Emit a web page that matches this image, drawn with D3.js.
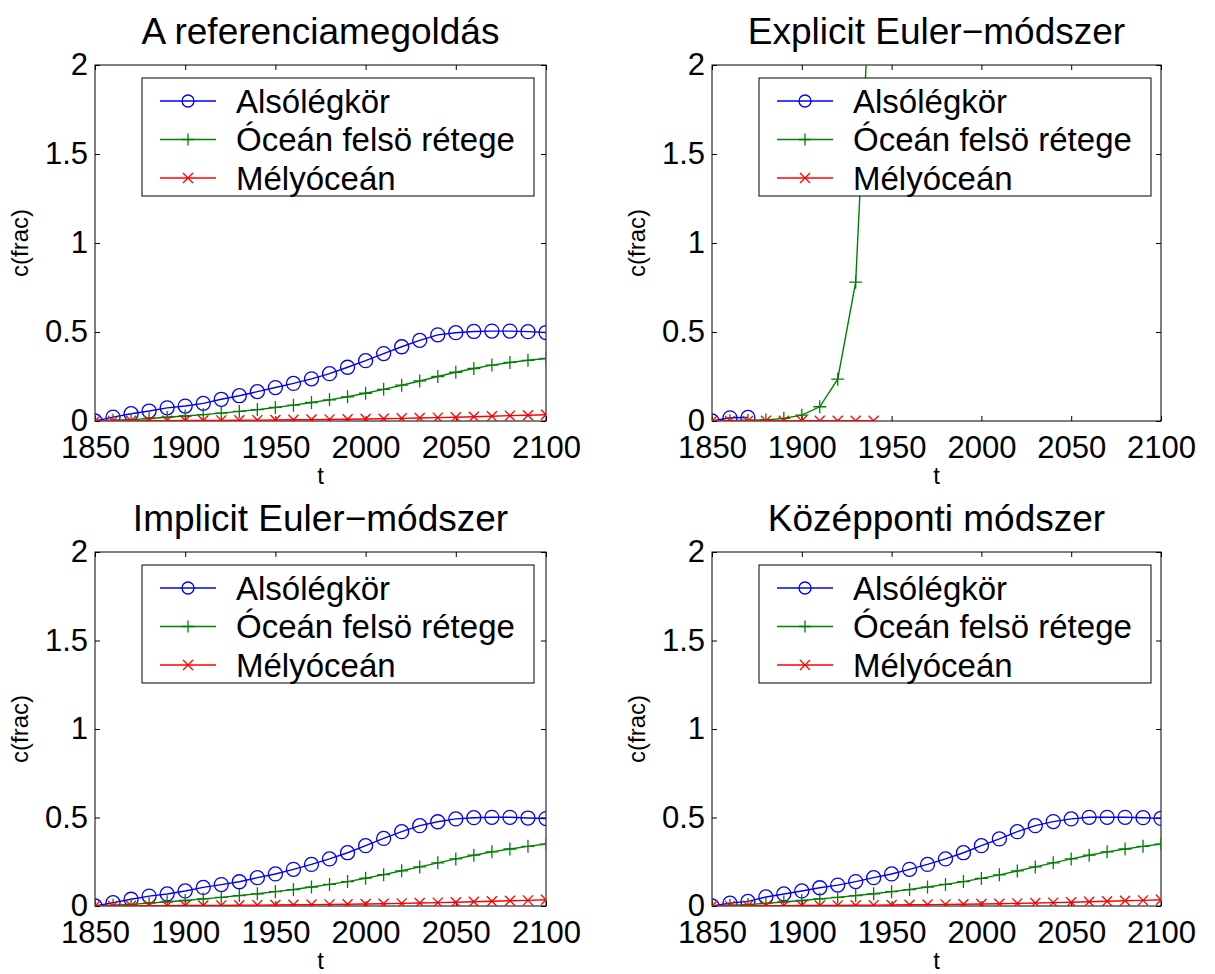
<!DOCTYPE html>
<html>
<head>
<meta charset="utf-8">
<script src="https://cdn.jsdelivr.net/npm/d3@7.9.0/dist/d3.min.js"></script>
<style>
  body { margin: 0; background: #fff; }
  svg { display: block; font-family: "Liberation Sans", Arial, sans-serif; }
</style>
</head>
<body>
<svg id="chart" width="1215" height="974"></svg>
<script>
// values
const years = [1850, 1860, 1870, 1880, 1890, 1900, 1910, 1920, 1930, 1940, 1950, 1960, 1970,
               1980, 1990, 2000, 2010, 2020, 2030, 2040, 2050, 2060, 2070, 2080, 2090, 2100];
const xTicks = [1850, 1900, 1950, 2000, 2050, 2100];
const yTicks = [0, 0.5, 1, 1.5, 2];
const seriesNames = ['Alsólégkör', 'Óceán felsö rétege', 'Mélyóceán'];
const titles = ['A referenciamegoldás', 'Explicit Euler\u2212módszer', 'Implicit Euler\u2212módszer', 'Középponti módszer'];

const refAtm = [0, 0.022, 0.041, 0.056, 0.074, 0.084, 0.099, 0.122, 0.142, 0.165, 0.188, 0.211, 0.237,
                0.266, 0.302, 0.339, 0.379, 0.417, 0.453, 0.484, 0.496, 0.503, 0.505, 0.505, 0.502, 0.497];
const refOcean = [0, 0.004, 0.008, 0.014, 0.021, 0.028, 0.036, 0.044, 0.054, 0.064, 0.076, 0.089, 0.104,
                  0.119, 0.136, 0.156, 0.178, 0.201, 0.225, 0.250, 0.274, 0.295, 0.314, 0.329, 0.341, 0.351];
const refDeep = [0, 0.0005, 0.001, 0.0015, 0.002, 0.0025, 0.003, 0.0035, 0.004, 0.005, 0.006, 0.007, 0.008,
                 0.009, 0.010, 0.011, 0.013, 0.015, 0.017, 0.019, 0.021, 0.024, 0.027, 0.030, 0.032, 0.035];

const explAtm = [0, 0.018, 0.02];
const explOcean = [0, 0.002, 0.004, 0.006, 0.015, 0.033, 0.08, 0.235, 0.78, 2.88];
const explDeep = [0, 0, 0, 0.001, 0.001, 0.001, 0.001, 0.001, 0.001, 0.001];

const implAtm = [0, 0.019, 0.038, 0.056, 0.068, 0.085, 0.105, 0.121, 0.137, 0.160, 0.181, 0.207, 0.235,
                 0.266, 0.301, 0.341, 0.382, 0.420, 0.454, 0.476, 0.492, 0.499, 0.501, 0.501, 0.497, 0.494];
const implOcean = [0, 0.004, 0.009, 0.016, 0.024, 0.031, 0.040, 0.049, 0.059, 0.069, 0.081, 0.093, 0.107,
                   0.122, 0.138, 0.157, 0.177, 0.199, 0.221, 0.244, 0.266, 0.287, 0.306, 0.322, 0.337, 0.350];
const implDeep = [0, 0.0005, 0.001, 0.0015, 0.002, 0.0025, 0.003, 0.0035, 0.004, 0.005, 0.006, 0.007, 0.008,
                  0.009, 0.010, 0.011, 0.013, 0.015, 0.017, 0.019, 0.021, 0.024, 0.027, 0.030, 0.032, 0.035];

const centAtm = [0, 0.016, 0.026, 0.051, 0.068, 0.085, 0.103, 0.118, 0.138, 0.160, 0.181, 0.207, 0.235,
                 0.266, 0.301, 0.341, 0.379, 0.420, 0.454, 0.477, 0.492, 0.501, 0.501, 0.501, 0.499, 0.495];
const centOcean = [0, 0.004, 0.008, 0.015, 0.023, 0.031, 0.040, 0.049, 0.059, 0.069, 0.081, 0.093, 0.107,
                   0.122, 0.138, 0.156, 0.176, 0.198, 0.221, 0.244, 0.266, 0.287, 0.306, 0.322, 0.337, 0.350];
const centDeep = [0, 0.0005, 0.001, 0.0015, 0.002, 0.0025, 0.003, 0.0035, 0.004, 0.005, 0.006, 0.007, 0.008,
                  0.009, 0.010, 0.011, 0.013, 0.015, 0.017, 0.019, 0.021, 0.024, 0.027, 0.030, 0.032, 0.035];

const panelData = [
  [refAtm, refOcean, refDeep],
  [explAtm, explOcean, explDeep],
  [implAtm, implOcean, implDeep],
  [centAtm, centOcean, centDeep]
];

const colors = ['#0000ff', '#008000', '#ff0000'];
const markerPaths = [
  d3.symbol().type(d3.symbolCircle).size(Math.PI * 7 * 7)(),
  'M-6.5,0H6.5M0,-6.5V6.5',
  'M-5,-5L5,5M-5,5L5,-5'
];
const legendMarkers = [
  d3.symbol().type(d3.symbolCircle).size(Math.PI * 6 * 6)(),
  'M-6,0H6M0,-6V6',
  'M-5,-5L5,5M-5,5L5,-5'
];

const boxes = [
  { left: 95, top: 65, right: 546, bottom: 421 },
  { left: 712, top: 65, right: 1161, bottom: 421 },
  { left: 95, top: 552, right: 546, bottom: 906 },
  { left: 712, top: 552, right: 1161, bottom: 906 }
];

const svg = d3.select('#chart');

boxes.forEach((b, p) => {
  let x = d3.scaleLinear().domain([1850, 2100]).range([b.left, b.right]);
  let y = d3.scaleLinear().domain([0, 2]).range([b.bottom, b.top]);

  let clipId = 'clip' + p;
  svg.append('clipPath').attr('id', clipId)
     .append('rect')
     .attr('x', b.left).attr('y', b.top)
     .attr('width', b.right - b.left).attr('height', b.bottom - b.top);

  // axes with inward ticks
  let gx = svg.append('g')
      .attr('transform', `translate(0,${b.bottom})`)
      .call(d3.axisBottom(x).tickValues(xTicks).tickFormat(d => d).tickSize(-5).tickSizeOuter(0).tickPadding(15));
  let gxt = svg.append('g')
      .attr('transform', `translate(0,${b.top})`)
      .call(d3.axisTop(x).tickValues(xTicks).tickFormat('').tickSize(-5).tickSizeOuter(0));
  let gy = svg.append('g')
      .attr('transform', `translate(${b.left},0)`)
      .call(d3.axisLeft(y).tickValues(yTicks).tickFormat(d => d).tickSize(-5).tickSizeOuter(0).tickPadding(7));
  let gyr = svg.append('g')
      .attr('transform', `translate(${b.right},0)`)
      .call(d3.axisRight(y).tickValues(yTicks).tickFormat('').tickSize(-5).tickSizeOuter(0));

  [gx, gxt, gy, gyr].forEach(g => {
    g.select('.domain').remove();
    g.selectAll('line').attr('stroke', '#000').attr('stroke-width', 1);
    g.selectAll('text').attr('fill', '#000')
     .style('font-size', '31px').style('font-family', '"Liberation Sans", Arial, sans-serif');
  });

  svg.append('rect')
     .attr('x', b.left).attr('y', b.top)
     .attr('width', b.right - b.left).attr('height', b.bottom - b.top)
     .attr('fill', 'none').attr('stroke', '#000').attr('stroke-width', 1);

  // series
  let plot = svg.append('g').attr('clip-path', `url(#${clipId})`);
  panelData[p].forEach((vals, s) => {
    let pts = vals.map((v, i) => [years[i], v]);
    let line = d3.line().x(d => x(d[0])).y(d => y(d[1]));
    plot.append('path')
        .attr('d', line(pts))
        .attr('fill', 'none')
        .attr('stroke', colors[s])
        .attr('stroke-width', 1.4);
    plot.selectAll(null)
        .data(pts)
        .enter().append('path')
        .attr('transform', d => `translate(${x(d[0])},${y(d[1])})`)
        .attr('d', markerPaths[s])
        .attr('fill', 'none')
        .attr('stroke', colors[s])
        .attr('stroke-width', 1.3);
  });

  // title and labels
  svg.append('text')
     .attr('x', (b.left + b.right) / 2).attr('y', b.top - 21)
     .attr('text-anchor', 'middle')
     .style('font-size', '37px')
     .text(titles[p]);

  svg.append('text')
     .attr('x', (b.left + b.right) / 2).attr('y', b.bottom + 63)
     .attr('text-anchor', 'middle')
     .style('font-size', '24px')
     .text('t');

  svg.append('text')
     .attr('transform', `translate(${b.left - 75},${(b.top + b.bottom) / 2}) rotate(-90)`)
     .attr('text-anchor', 'middle')
     .attr('dy', '0.35em')
     .style('font-size', '24px')
     .text('c(frac)');

  // legend
  let lg = svg.append('g').attr('transform', `translate(${b.left + 47},${b.top + 13})`);
  lg.append('rect')
    .attr('width', 392).attr('height', 118)
    .attr('fill', '#fff').attr('stroke', '#000').attr('stroke-width', 1);
  seriesNames.forEach((name, s) => {
    let ly = 23 + s * 38.5;
    lg.append('line')
      .attr('x1', 18).attr('x2', 74).attr('y1', ly).attr('y2', ly)
      .attr('stroke', colors[s]).attr('stroke-width', 1.4);
    lg.append('path')
      .attr('transform', `translate(46,${ly})`)
      .attr('d', legendMarkers[s])
      .attr('fill', 'none').attr('stroke', colors[s]).attr('stroke-width', 1.3);
    lg.append('text')
      .attr('x', 94).attr('y', ly).attr('dy', '0.36em')
      .style('font-size', '33px')
      .text(name);
  });
});
</script>
</body>
</html>
